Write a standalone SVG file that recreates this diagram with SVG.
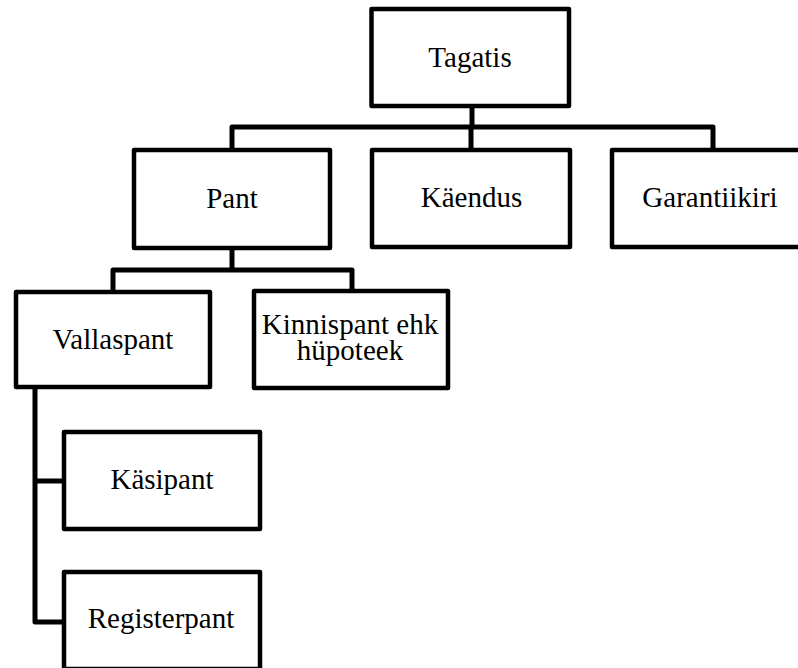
<svg xmlns="http://www.w3.org/2000/svg" width="798" height="668" viewBox="0 0 798 668">
<style>
.box{fill:#fff;stroke:#000;stroke-width:4.5;stroke-linejoin:round}
.lbl{font-size:29px;fill:#000;text-anchor:middle}
.conn{fill:none;stroke:#000;stroke-width:5;stroke-linejoin:round;stroke-linecap:butt}
</style>
<rect width="798" height="668" fill="#fff"/>
<g id="connectors">
<line class="conn" x1="472" y1="107" x2="472" y2="127" stroke-width="9"/>
<path class="conn" d="M232,150 V127 H713 V150"/>
<line class="conn" x1="471" y1="127" x2="471" y2="150"/>
<path class="conn" d="M232,248 V270"/>
<path class="conn" d="M113,292 V270 H352 V291"/>
<path class="conn" d="M35,387 V622 H64"/>
<line class="conn" x1="35" y1="481" x2="64" y2="481"/>
</g>
<g font-family="Liberation Serif">
<g id="tagatis"><rect class="box" x="371.5" y="9" width="197.5" height="97"/><text class="lbl" x="470" y="67">Tagatis</text></g>
<g id="pant"><rect class="box" x="134" y="150" width="196" height="98"/><text class="lbl" x="232" y="208">Pant</text></g>
<g id="kaendus"><rect class="box" x="372" y="150" width="198" height="97"/><text class="lbl" x="471.5" y="207">Käendus</text></g>
<g id="garantiikiri"><rect class="box" x="612" y="150" width="196" height="97"/><text class="lbl" x="710" y="207">Garantiikiri</text></g>
<g id="vallaspant"><rect class="box" x="16" y="292" width="194" height="95"/><text class="lbl" x="113" y="349">Vallaspant</text></g>
<g id="kinnispant"><rect class="box" x="254" y="291" width="194" height="97"/><text class="lbl"><tspan x="350" y="334">Kinnispant ehk</tspan><tspan x="350" y="360">hüpoteek</tspan></text></g>
<g id="kasipant"><rect class="box" x="64" y="432" width="196" height="97"/><text class="lbl" x="162" y="489">Käsipant</text></g>
<g id="registerpant"><rect class="box" x="64" y="572" width="196" height="97"/><text class="lbl" x="161" y="628">Registerpant</text></g>
</g>
</svg>
